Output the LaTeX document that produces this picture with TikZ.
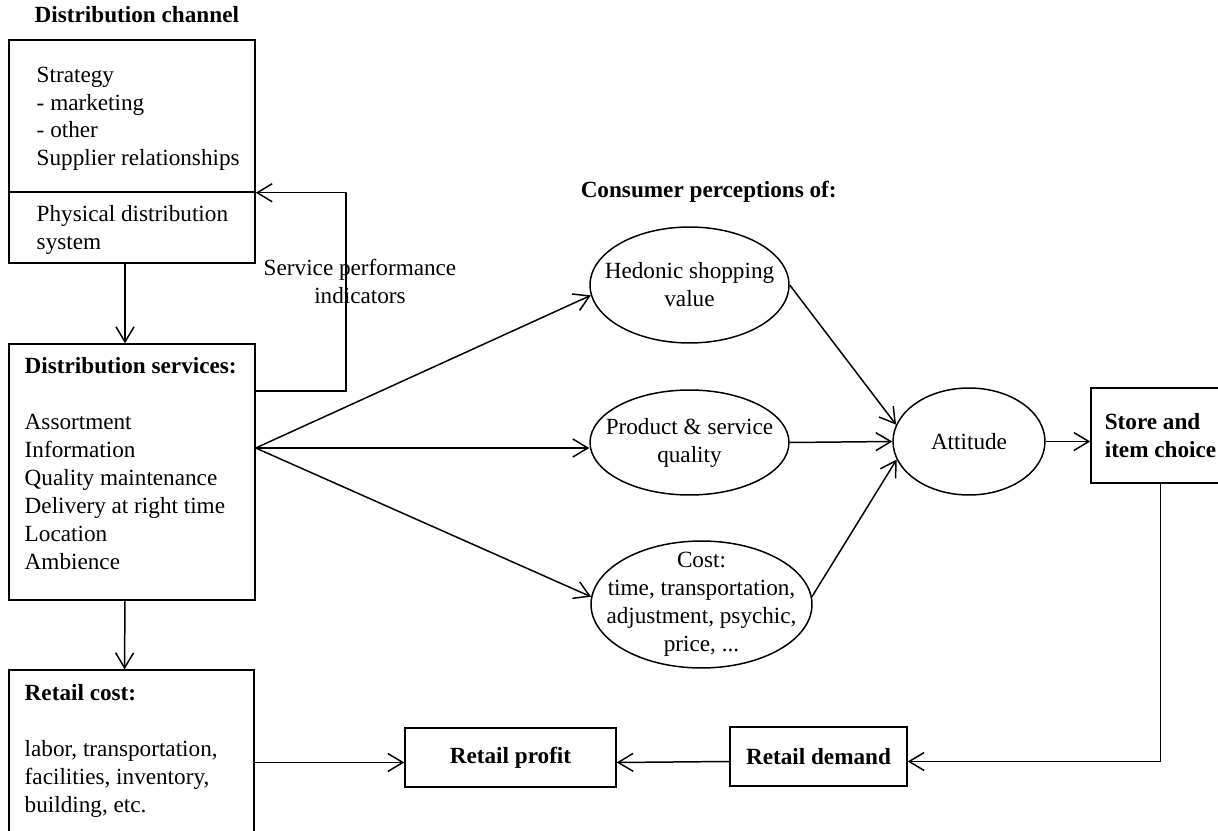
\documentclass[tikz,border=0pt]{standalone}
\usepackage{fontspec}
\setmainfont{Liberation Serif}
\usetikzlibrary{arrows.meta, shapes.geometric, positioning}
\tikzset{
	box/.style={draw, rectangle, inner sep=0pt},
	oval/.style={draw, ellipse, inner sep=0pt},
	txt/.style={inner sep=0pt, align=left, anchor=north west}
}

\begin{document}
\begin{tikzpicture}[x=0.02cm, y=-0.02cm, ->, >={Straight Barb[length=0.3cm, width=0.36cm]}, line width=0.85pt, font=\fontsize{13.2}{15.9}\selectfont]

	\useasboundingbox (0,0) rectangle (1218,831);
	\clip (0,0) rectangle (1218,831);

	% left column
	\node[inner sep=0pt, anchor=base west] (chantitle) at (34,23) {\textbf{Distribution channel}};
	\node[box, minimum width=4.92cm, minimum height=3.04cm] (chanup) at (132,116) {};
	\node[box, minimum width=4.92cm, minimum height=1.42cm] (chanlow) at (132,227.5) {};
	\node[txt] (chanuptxt) at (36,66) {Strategy\\- marketing\\- other\\Supplier relationships};
	\node[txt] (chanlowtxt) at (36,205) {Physical distribution\\system};

	\node[box, minimum width=4.92cm, minimum height=5.12cm] (svc) at (132,472) {};
	\node[txt] (svctxt) at (24,357) {\textbf{Distribution services:}\\[15.9pt]Assortment\\Information\\Quality maintenance\\Delivery at right time\\Location\\Ambience};

	\node[box, minimum width=4.9cm, minimum height=4cm] (rcost) at (131.5,770) {};
	\node[txt] (rcosttxt) at (24,684) {\textbf{Retail cost:}\\[15.9pt]labor, transportation,\\facilities, inventory,\\building, etc.};

	\node[inner sep=0pt, align=center, anchor=north] (spi) at (360,258) {Service performance\\indicators};

	% consumer side
	\node[inner sep=0pt, anchor=base west] (constitle) at (580,198) {\textbf{Consumer perceptions of:}};
	\node[oval, minimum width=3.98cm, minimum height=2.32cm, label={[align=center]center:{Hedonic shopping\\value}}] (hed) at (689.5,285) {};
	\node[oval, minimum width=3.98cm, minimum height=2.1cm, label={[align=center]center:{Product \& service\\quality}}] (prod) at (689.5,442.5) {};
	\node[oval, minimum width=4.42cm, minimum height=2.54cm, label={[align=center]center:{Cost:\\time, transportation,\\adjustment, psychic,\\price, ...}}] (cost) at (701.5,604.5) {};
	\node[oval, minimum width=3.04cm, minimum height=2.14cm, label=center:Attitude] (att) at (969,441.5) {};
	\node[box, minimum width=2.78cm, minimum height=1.9cm, align=left] (store) at (1160.5,435.5) {\textbf{Store and}\\\textbf{item choice}};

	\node[box, minimum width=4.22cm, minimum height=1.18cm] (profit) at (510.5,757.5) {\textbf{Retail profit}};
	\node[box, minimum width=3.54cm, minimum height=1.18cm] (demand) at (818.5,756.5) {\textbf{Retail demand}};

	\coordinate (fb) at (346,391);
	\coordinate (fan) at ([yshift=0.48cm]svc.east);
	\coordinate (pin) at ([yshift=-0.1cm]profit.west);
	\coordinate (din) at ([yshift=-0.1cm]demand.east);

	\draw ([xshift=-0.14cm]chanlow.south) -- ([xshift=-0.14cm]svc.north);
	\draw ([xshift=-0.14cm]svc.south) -- ([xshift=-0.14cm]rcost.north);
	\draw (svc.east |- fb) -- (fb) |- (chanup.south east);

	\draw (fan) -- (hed.186);
	\draw (fan) -- (fan -| prod.west);
	\draw (fan) -- (cost.176);

	\draw (hed.east) -- (att.167);
	\draw (prod.east) -- (att.west);
	\draw (cost.4) -- (att.194);
	\draw (att.east) -- (att.east -| store.west);

	\draw (store.south) |- (din);
	\draw ([yshift=-0.1cm]demand.west) -- ([yshift=-0.1cm]profit.east);
	\draw (rcost.east |- pin) -- (pin);
\end{tikzpicture}
\end{document}
